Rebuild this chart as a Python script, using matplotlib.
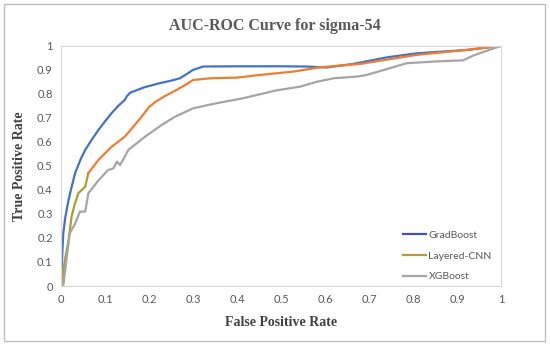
import matplotlib.pyplot as plt
from matplotlib.lines import Line2D
from matplotlib.patches import Rectangle

# ROC points
grad_fpr = [0, 0.002, 0.005, 0.01, 0.017, 0.025, 0.032, 0.045, 0.055, 0.07, 0.085, 0.1, 0.115, 0.13,
            0.145, 0.149, 0.157, 0.19, 0.225, 0.25, 0.27, 0.285, 0.3, 0.323, 0.4, 0.5, 0.558, 0.604,
            0.664, 0.74, 0.808, 0.922, 1.0]
grad_tpr = [0, 0.1, 0.22, 0.29, 0.358, 0.42, 0.47, 0.53, 0.567, 0.61, 0.65, 0.686, 0.72, 0.75,
            0.775, 0.789, 0.805, 0.828, 0.845, 0.855, 0.865, 0.882, 0.9, 0.914, 0.915, 0.915, 0.914, 0.91,
            0.925, 0.952, 0.969, 0.983, 1.0]

cnn_fpr = [0.0015, 0.008, 0.017, 0.024, 0.031, 0.039, 0.047, 0.055, 0.062, 0.085, 0.115, 0.145, 0.165,
           0.183, 0.2, 0.215, 0.24, 0.263, 0.285, 0.3, 0.339, 0.4, 0.452, 0.528, 0.589, 0.68, 0.808,
           0.92, 1.0]
cnn_tpr = [0, 0.1, 0.19, 0.29, 0.34, 0.386, 0.4, 0.414, 0.47, 0.525, 0.58, 0.622, 0.665,
           0.705, 0.745, 0.768, 0.795, 0.817, 0.84, 0.858, 0.865, 0.868, 0.879, 0.893, 0.911, 0.925, 0.9625,
           0.983, 1.0]

xgb_fpr = [0.005, 0.013, 0.02, 0.032, 0.043, 0.055, 0.062, 0.085, 0.107, 0.119, 0.127, 0.134,
           0.145, 0.153, 0.191, 0.229, 0.259, 0.3, 0.35, 0.414, 0.49, 0.543, 0.58, 0.619, 0.672, 0.695,
           0.786, 0.85, 0.914, 0.937, 1.0]
xgb_tpr = [0, 0.12, 0.22, 0.26, 0.31, 0.31, 0.386, 0.44, 0.483, 0.49, 0.518, 0.504,
           0.539, 0.567, 0.622, 0.671, 0.705, 0.74, 0.76, 0.782, 0.815, 0.83, 0.85, 0.865, 0.872, 0.879,
           0.928, 0.935, 0.94, 0.96, 1.0]

ticks = [0, 0.1, 0.2, 0.3, 0.4, 0.5, 0.6, 0.7, 0.8, 0.9, 1]
tick_labels = ["0", "0.1", "0.2", "0.3", "0.4", "0.5", "0.6", "0.7", "0.8", "0.9", "1"]

fig = plt.figure(figsize=(5.5, 3.45), dpi=100)
fig.patches.append(Rectangle((0.007, 0.012), 0.984, 0.975, transform=fig.transFigure,
                             fill=False, edgecolor="#BFBFBF", linewidth=1))
ax = fig.add_axes([0.111, 0.171, 0.8, 0.696])

ax.plot(grad_fpr, grad_tpr, color="#4472C4", linewidth=1.6, solid_joinstyle="round")
# lower part of Layered-CNN drawn olive as in the reference
split = 8
ax.plot(cnn_fpr[:split + 1], cnn_tpr[:split + 1], color="#A8A030", linewidth=1.6, solid_joinstyle="round")
ax.plot(cnn_fpr[split:], cnn_tpr[split:], color="#ED7D31", linewidth=1.6, solid_joinstyle="round")
ax.plot(xgb_fpr, xgb_tpr, color="#A5A5A5", linewidth=1.6, solid_joinstyle="round")

ax.set_xlim(0, 1)
ax.set_ylim(0, 1)
ax.set_xticks(ticks)
ax.set_xticklabels(tick_labels)
ax.set_yticks(ticks)
ax.set_yticklabels(tick_labels)
ax.tick_params(length=0, labelsize=8, colors="#595959", pad=6)
for lab in ax.get_xticklabels() + ax.get_yticklabels():
    lab.set_fontfamily("Lato")
for s in ax.spines.values():
    s.set_color("#D9D9D9")
    s.set_linewidth(0.9)

serif = ["Liberation Serif", "DejaVu Serif"]
fig.text(0.5, 0.925, "AUC-ROC Curve for sigma-54", ha="center", va="center",
         fontsize=11.5, fontweight="bold", color="#595959", family=serif)
ax.set_xlabel("False Positive Rate", fontsize=10, fontweight="bold", color="#404040",
              family=serif, labelpad=8)
ax.set_ylabel("True Positive Rate", fontsize=10, fontweight="bold", color="#404040",
              family=serif, labelpad=8)

handles = [Line2D([], [], color="#3F55B5", linewidth=1.6),
           Line2D([], [], color="#B89A38", linewidth=1.6),
           Line2D([], [], color="#A5A5A5", linewidth=1.6)]
leg = ax.legend(handles, ["GradBoost", "Layered-CNN", "XGBoost"], loc="lower right",
                bbox_to_anchor=(1.0, -0.02), frameon=False,
                handlelength=2.2, handletextpad=0.2, labelspacing=1.1,
                prop={"family": "Lato", "size": 7.5})
for t in leg.get_texts():
    t.set_color("#595959")

fig.savefig("out.png", dpi=100)
